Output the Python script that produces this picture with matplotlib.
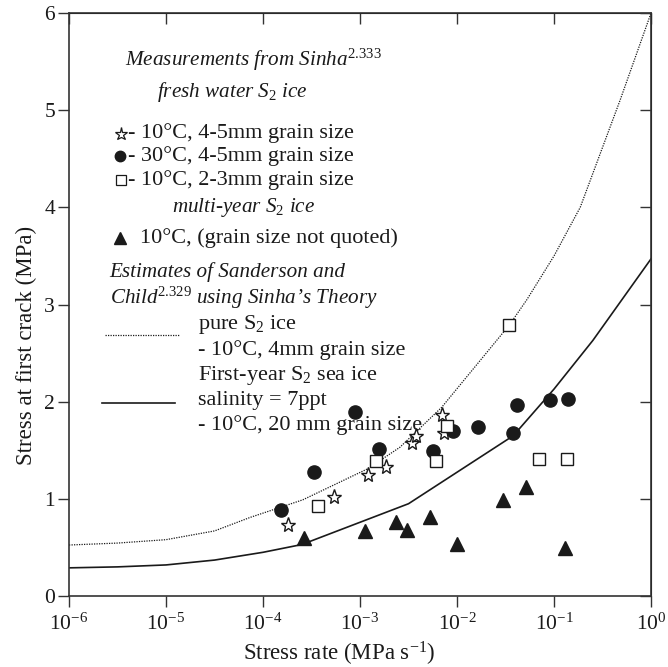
import numpy as np
import matplotlib
matplotlib.use("Agg")
import matplotlib.pyplot as plt

plt.rcParams['font.family'] = 'Liberation Serif'
plt.rcParams['mathtext.fontset'] = 'custom'
plt.rcParams['mathtext.rm'] = 'Liberation Serif'
plt.rcParams['mathtext.it'] = 'Liberation Serif:italic'
plt.rcParams['mathtext.bf'] = 'Liberation Serif:bold'

# -10C, 4-5mm grain size (stars)
star_x = [1.81e-4, 5.4e-4, 1.21e-3, 1.85e-3, 3.44e-3, 3.78e-3, 7.0e-3, 7.3e-3]
star_y = [0.73, 1.02, 1.245, 1.33, 1.575, 1.65, 1.86, 1.68]

# -30C, 4-5mm grain size (filled circles)
circ_x = [1.53e-4, 3.36e-4, 8.87e-4, 1.57e-3, 5.66e-3, 9.1e-3, 1.64e-2,
          3.78e-2, 4.16e-2, 9.1e-2, 1.39e-1]
circ_y = [0.885, 1.276, 1.89, 1.51, 1.49, 1.70, 1.74, 1.68, 1.97, 2.02, 2.03]

# -10C, 2-3mm grain size (open squares)
sq_x = [3.69e-4, 1.46e-3, 6.08e-3, 7.9e-3, 3.43e-2, 7.0e-2, 1.36e-1]
sq_y = [0.926, 1.39, 1.39, 1.75, 2.79, 1.41, 1.41]

# multi-year, -10C (triangles)
tri_x = [2.65e-4, 1.13e-3, 2.35e-3, 3.05e-3, 5.27e-3, 1.0e-2, 2.98e-2, 5.14e-2, 1.3e-1]
tri_y = [0.60, 0.67, 0.76, 0.68, 0.81, 0.535, 0.99, 1.12, 0.49]

# Sanderson & Child estimates (log10 of stress rate)
pure_logx = [-6, -5.5, -5, -4.5, -4.13, -3.59, -2.92, -2.59, -2.16, -1.46,
             -1.28, -1.0, -0.73, -0.32, 0]
pure_y = [0.525, 0.545, 0.58, 0.67, 0.81, 0.99, 1.31, 1.53, 1.94, 2.79,
          3.05, 3.5, 4.0, 5.1, 6.0]
sea_logx = [-6, -5.5, -5, -4.5, -4, -3.6, -2.5, -1.42, -1.0, -0.6, -0.3, 0]
sea_y = [0.29, 0.30, 0.32, 0.37, 0.45, 0.53, 0.95, 1.65, 2.13, 2.63, 3.05, 3.47]

ink = '#1a1a1a'

fig = plt.figure(figsize=(6.68, 6.67), dpi=100)
ax = fig.add_axes([0.1033, 0.1064, 0.8713, 0.8741])

ax.plot(10.0**np.array(pure_logx), pure_y, ls=(0, (1, 1)), lw=0.9, color=ink)
ax.plot(10.0**np.array(sea_logx), sea_y, ls='-', lw=1.2, color=ink)

ax.plot(star_x, star_y, '*', ms=11, mfc='white', mec=ink, mew=1.0, ls='none')
ax.plot(circ_x, circ_y, 'o', ms=9.5, mfc=ink, mec=ink, ls='none')
ax.plot(sq_x, sq_y, 's', ms=8, mfc='white', mec=ink, mew=1.0, ls='none')
ax.plot(tri_x, tri_y, '^', ms=10, mfc=ink, mec=ink, ls='none')

ax.set_xscale('log')
ax.set_xlim(1e-6, 1)
ax.set_ylim(0, 6)
ax.set_xticks([1e-6, 1e-5, 1e-4, 1e-3, 1e-2, 1e-1, 1])
ax.minorticks_off()
ax.set_yticks([0, 1, 2, 3, 4, 5, 6])
ax.tick_params(axis='both', which='major', direction='out', length=8,
               width=1.0, labelsize=15.5, colors='#333333', labelcolor=ink)
ax.tick_params(axis='x', pad=5)
ax.tick_params(axis='y', pad=2)
for side in ['top', 'right']:
    sec = ax.secondary_xaxis('top') if side == 'top' else ax.secondary_yaxis('right')
    sec.tick_params(direction='in', length=8, width=1.0, colors='#333333')
    if side == 'top':
        sec.set_xticks([1e-6, 1e-5, 1e-4, 1e-3, 1e-2, 1e-1, 1])
        sec.minorticks_off()
        sec.set_xticklabels([])
    else:
        sec.set_yticks([0, 1, 2, 3, 4, 5, 6])
        sec.set_yticklabels([])
for s in ax.spines.values():
    s.set_color('#333333')
    s.set_linewidth(1.2)

ax.set_xlabel('Stress rate (MPa s$^{-1}$)', fontsize=16.5, color=ink, labelpad=2)
ax.xaxis.set_label_coords(0.464, -0.075)
ax.set_ylabel('Stress at first crack (MPa)', fontsize=16.5, color=ink)
ax.yaxis.set_label_coords(-0.055, 0.43)

# legend block written as free text
fs = 16
fi = 15.2
tr = ax.transAxes
kw = dict(transform=tr, color=ink, va='center', ha='left')
ax.text(0.096, 0.919, 'Measurements from Sinha$^{2.333}$', style='italic', fontsize=fi, **kw)
ax.text(0.151, 0.864, 'fresh water $S_2$ ice', style='italic', fontsize=fi, **kw)
ax.plot([0.089], [0.792], '*', ms=9.5, mfc='white', mec=ink, mew=0.9, transform=tr, clip_on=False)
ax.text(0.101, 0.794, '- 10°C, 4-5mm grain size', fontsize=fs, **kw)
ax.plot([0.088], [0.754], 'o', ms=7.5, color=ink, transform=tr, clip_on=False)
ax.text(0.101, 0.754, '- 30°C, 4-5mm grain size', fontsize=fs, **kw)
ax.plot([0.089], [0.713], 's', ms=7, mfc='white', mec=ink, mew=0.9, transform=tr, clip_on=False)
ax.text(0.101, 0.713, '- 10°C, 2-3mm grain size', fontsize=fs, **kw)
ax.text(0.177, 0.666, 'multi-year $S_2$ ice', style='italic', fontsize=fi, **kw)
ax.plot([0.088], [0.614], '^', ms=8, color=ink, transform=tr, clip_on=False)
ax.text(0.122, 0.614, '10°C, (grain size not quoted)', fontsize=fs, **kw)
ax.text(0.070, 0.556, 'Estimates of Sanderson and', style='italic', fontsize=fi, **kw)
ax.text(0.070, 0.511, "Child$^{\\mathit{2.329}}$ using Sinha’s Theory", style='italic',
        fontsize=fi, **kw)
ax.plot([0.062, 0.191], [0.448, 0.448], ls=(0, (1, 1)), lw=0.9, color=ink, transform=tr)
ax.text(0.222, 0.465, 'pure $\\mathrm{S}_2$ ice', fontsize=fs, **kw)
ax.text(0.222, 0.422, '- 10°C, 4mm grain size', fontsize=fs, **kw)
ax.plot([0.057, 0.182], [0.331, 0.331], ls='-', lw=1.2, color=ink, transform=tr)
ax.text(0.222, 0.379, 'First-year $\\mathrm{S}_2$ sea ice', fontsize=fs, **kw)
ax.text(0.222, 0.336, 'salinity = 7ppt', fontsize=fs, **kw)
ax.text(0.222, 0.293, '- 10°C, 20 mm grain size', fontsize=fs, **kw)

fig.savefig('out.png', dpi=100)
